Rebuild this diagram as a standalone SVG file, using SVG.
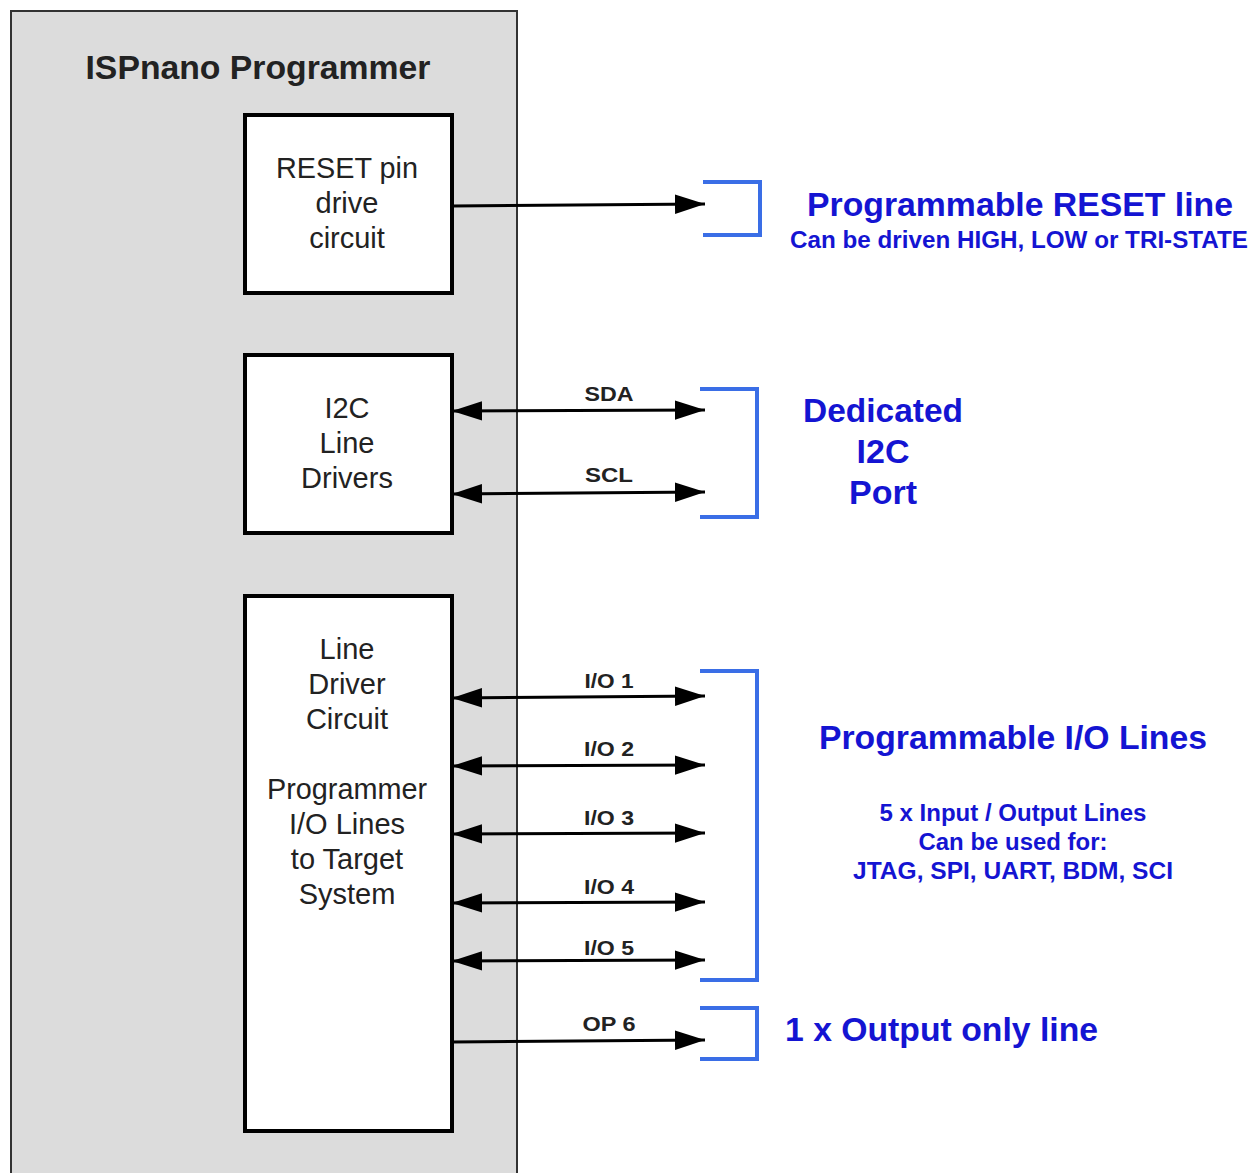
<svg xmlns="http://www.w3.org/2000/svg" width="1252" height="1173" viewBox="0 0 1252 1173">
<defs>
<marker id="ah" markerUnits="userSpaceOnUse" markerWidth="30" markerHeight="20" viewBox="0 0 28 18" refX="28" refY="9" orient="auto-start-reverse">
<path d="M0,0 L28,9 L0,18 Z" fill="#000"/>
</marker>
<style>
text{font-family:"Liberation Sans",Arial,sans-serif}
.blk{fill:#fff;stroke:#000;stroke-width:4}
.bt{font-size:29px;fill:#222;text-anchor:middle}
.ln{stroke:#000;stroke-width:3;fill:none}
.lbl{font-size:21px;font-weight:bold;fill:#222;text-anchor:middle}
.br{fill:none;stroke:#3a6ee6;stroke-width:4;stroke-linejoin:miter}
.big{font-size:34px;font-weight:bold;fill:#1414d2}
.sm{font-size:23px;font-weight:bold;fill:#1414d2;text-anchor:middle}
</style>
</defs>
<rect width="1252" height="1173" fill="#fff"/>
<g id="programmer">
<rect x="11" y="11" width="506" height="1175" fill="#dcdcdc" stroke="#333" stroke-width="2"/>
<text x="258" y="79" font-size="33" font-weight="bold" fill="#222" text-anchor="middle" textLength="345" lengthAdjust="spacingAndGlyphs">ISPnano Programmer</text>
</g>
<g id="reset-box">
<rect class="blk" x="245" y="115" width="207" height="178"/>
<text class="bt" x="347" y="178" textLength="142" lengthAdjust="spacingAndGlyphs">RESET pin</text>
<text class="bt" x="347" y="213">drive</text>
<text class="bt" x="347" y="248">circuit</text>
</g>
<g id="i2c-box">
<rect class="blk" x="245" y="355" width="207" height="178"/>
<text class="bt" x="347" y="418">I2C</text>
<text class="bt" x="347" y="453">Line</text>
<text class="bt" x="347" y="488">Drivers</text>
</g>
<g id="io-box">
<rect class="blk" x="245" y="596" width="207" height="535"/>
<text class="bt" x="347" y="659">Line</text>
<text class="bt" x="347" y="694">Driver</text>
<text class="bt" x="347" y="729">Circuit</text>
<text class="bt" x="347" y="799" textLength="160" lengthAdjust="spacingAndGlyphs">Programmer</text>
<text class="bt" x="347" y="834">I/O Lines</text>
<text class="bt" x="347" y="869">to Target</text>
<text class="bt" x="347" y="904">System</text>
</g>
<g id="connectors">
<line class="ln" x1="452" y1="206" x2="705" y2="204" marker-end="url(#ah)"/>
<line class="ln" x1="452" y1="411" x2="705" y2="410" marker-start="url(#ah)" marker-end="url(#ah)"/>
<line class="ln" x1="452" y1="494" x2="705" y2="492" marker-start="url(#ah)" marker-end="url(#ah)"/>
<line class="ln" x1="452" y1="698" x2="705" y2="696" marker-start="url(#ah)" marker-end="url(#ah)"/>
<line class="ln" x1="452" y1="766" x2="705" y2="765" marker-start="url(#ah)" marker-end="url(#ah)"/>
<line class="ln" x1="452" y1="834" x2="705" y2="833" marker-start="url(#ah)" marker-end="url(#ah)"/>
<line class="ln" x1="452" y1="903" x2="705" y2="902" marker-start="url(#ah)" marker-end="url(#ah)"/>
<line class="ln" x1="452" y1="961" x2="705" y2="960" marker-start="url(#ah)" marker-end="url(#ah)"/>
<line class="ln" x1="452" y1="1042" x2="705" y2="1040" marker-end="url(#ah)"/>
<text class="lbl" x="609" y="401" textLength="49" lengthAdjust="spacingAndGlyphs">SDA</text>
<text class="lbl" x="609" y="482" textLength="48" lengthAdjust="spacingAndGlyphs">SCL</text>
<text class="lbl" x="609" y="688" textLength="49" lengthAdjust="spacingAndGlyphs">I/O 1</text>
<text class="lbl" x="609" y="756" textLength="50" lengthAdjust="spacingAndGlyphs">I/O 2</text>
<text class="lbl" x="609" y="825" textLength="50" lengthAdjust="spacingAndGlyphs">I/O 3</text>
<text class="lbl" x="609" y="894" textLength="50" lengthAdjust="spacingAndGlyphs">I/O 4</text>
<text class="lbl" x="609" y="955" textLength="50" lengthAdjust="spacingAndGlyphs">I/O 5</text>
<text class="lbl" x="609" y="1031" textLength="53" lengthAdjust="spacingAndGlyphs">OP 6</text>
</g>
<g id="reset-port">
<path class="br" d="M703,182 H760 V235 H703"/>
<text class="big" x="1020" y="216" text-anchor="middle" textLength="426" lengthAdjust="spacingAndGlyphs">Programmable RESET line</text>
<text class="sm" x="1019" y="248" textLength="458" lengthAdjust="spacingAndGlyphs">Can be driven HIGH, LOW or TRI-STATE</text>
</g>
<g id="i2c-port">
<path class="br" d="M700,389 H757 V517 H700"/>
<text class="big" x="883" y="422" text-anchor="middle" textLength="160" lengthAdjust="spacingAndGlyphs">Dedicated</text>
<text class="big" x="883" y="463" text-anchor="middle">I2C</text>
<text class="big" x="883" y="504" text-anchor="middle">Port</text>
</g>
<g id="io-port">
<path class="br" d="M700,671 H757 V980 H700"/>
<text class="big" x="1013" y="749" text-anchor="middle" textLength="388" lengthAdjust="spacingAndGlyphs">Programmable I/O Lines</text>
<text class="sm" x="1013" y="821" textLength="267" lengthAdjust="spacingAndGlyphs">5 x Input / Output Lines</text>
<text class="sm" x="1013" y="850" textLength="189" lengthAdjust="spacingAndGlyphs">Can be used for:</text>
<text class="sm" x="1013" y="879" textLength="320" lengthAdjust="spacingAndGlyphs">JTAG, SPI, UART, BDM, SCI</text>
</g>
<g id="op-port">
<path class="br" d="M700,1008 H757 V1059 H700"/>
<text class="big" x="785" y="1041" textLength="313" lengthAdjust="spacingAndGlyphs">1 x Output only line</text>
</g>
</svg>
